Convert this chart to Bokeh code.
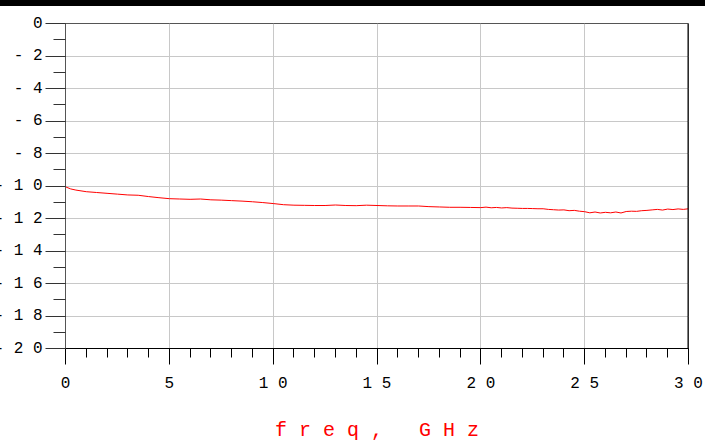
from bokeh.plotting import figure
from bokeh.models import FixedTicker, Div, Range1d, Span
from bokeh.layouts import column
from bokeh.embed import file_html
from bokeh.resources import INLINE

# ---- data ----
freq = [0.0, 0.25, 0.5, 1.0, 1.5, 2.0, 2.5, 3.0, 3.5, 4.0, 4.5, 5.0, 5.5, 6.0, 6.5,
        7.0, 7.5, 8.0, 8.5, 9.0, 9.5, 10.0, 10.5, 11.0, 11.5, 12.0, 12.5, 13.0,
        13.5, 14.0, 14.5, 15.0, 15.5, 16.0, 16.5, 17.0, 17.5, 18.0, 18.5, 19.0,
        19.5, 20.0, 20.25, 20.5, 20.75, 21.0, 21.25, 21.5, 21.75, 22.0, 22.25,
        22.5, 22.75, 23.0, 23.25, 23.5, 23.75, 24.0, 24.25, 24.5, 24.75, 25.0,
        25.25, 25.5, 25.75, 26.0, 26.25, 26.5, 26.75, 27.0, 27.25, 27.5, 27.75,
        28.0, 28.25, 28.5, 28.75, 29.0, 29.25, 29.5, 29.75, 30.0]
s21_db = [-10.05, -10.18, -10.25, -10.35, -10.40, -10.45, -10.50, -10.55, -10.57,
          -10.65, -10.72, -10.78, -10.80, -10.82, -10.80, -10.85, -10.87, -10.90,
          -10.93, -10.97, -11.02, -11.08, -11.15, -11.18, -11.19, -11.20, -11.20,
          -11.17, -11.20, -11.21, -11.18, -11.20, -11.22, -11.23, -11.23, -11.23,
          -11.27, -11.29, -11.31, -11.31, -11.32, -11.33, -11.30, -11.34, -11.32,
          -11.35, -11.33, -11.36, -11.37, -11.38, -11.38, -11.39, -11.40, -11.40,
          -11.44, -11.46, -11.48, -11.47, -11.52, -11.50, -11.55, -11.58, -11.65,
          -11.60, -11.66, -11.62, -11.65, -11.60, -11.66, -11.57, -11.55, -11.56,
          -11.52, -11.50, -11.47, -11.44, -11.48, -11.42, -11.45, -11.41, -11.44,
          -11.40]

x_major = [0, 5, 10, 15, 20, 25, 30]
x_tick_labels = ["0", "5", "1 0", "1 5", "2 0", "2 5", "3 0"]
x_minor = list(range(0, 31))
y_major = [0, -2, -4, -6, -8, -10, -12, -14, -16, -18, -20]
y_tick_labels = ["0", "- 2", "- 4", "- 6", "- 8", "- 1 0", "- 1 2", "- 1 4",
                 "- 1 6", "- 1 8", "- 2 0"]
y_minor = list(range(-20, 1))
x_title = "f r e q ,\u00a0\u00a0\u00a0G H z"

MONO = "Liberation Mono"
LEFT = 80          # frame left inside figure
SHIFT = LEFT - 65  # extra left shift so frame sits at x=65 on page

p = figure(width=705 + SHIFT, height=432,
           x_range=Range1d(0, 30), y_range=Range1d(-20, 0),
           output_backend="svg", toolbar_location=None,
           min_border_left=LEFT, min_border_right=17,
           min_border_top=11, min_border_bottom=93)
p.background_fill_color = "white"
p.border_fill_color = "white"
p.outline_line_color = "#555555"

p.line(freq, s21_db, line_color="#ff0000", line_width=1)

# x axis
xa = p.xaxis[0]
xa.ticker = FixedTicker(ticks=x_major, minor_ticks=x_minor)
xa.major_label_overrides = {t: l for t, l in zip(x_major, x_tick_labels)}
xa.major_tick_out = 16
xa.major_tick_in = 0
xa.minor_tick_out = 9
xa.minor_tick_in = 0
xa.axis_line_color = "black"
xa.major_tick_line_color = "black"
xa.minor_tick_line_color = "black"
xa.major_label_text_font = MONO
xa.major_label_text_font_size = "16px"
xa.major_label_text_color = "black"
xa.major_label_standoff = 10
xa.axis_label = x_title
xa.axis_label_text_font = MONO
xa.axis_label_text_font_size = "20px"
xa.axis_label_text_font_style = "normal"
xa.axis_label_text_color = "#ff0000"
xa.axis_label_standoff = 23

# y axis
ya = p.yaxis[0]
ya.ticker = FixedTicker(ticks=y_major, minor_ticks=y_minor)
ya.major_label_overrides = {t: l for t, l in zip(y_major, y_tick_labels)}
ya.major_tick_out = 20
ya.major_tick_in = 0
ya.minor_tick_out = 12
ya.minor_tick_in = 0
ya.axis_line_color = "#555555"
ya.major_tick_line_color = "#333333"
ya.minor_tick_line_color = "#333333"
ya.major_label_text_font = MONO
ya.major_label_text_font_size = "16px"
ya.major_label_text_color = "black"
ya.major_label_standoff = 3

# grid
p.xgrid.ticker = FixedTicker(ticks=[5, 10, 15, 20, 25])
p.ygrid.ticker = FixedTicker(ticks=[-2, -4, -6, -8, -10, -12, -14, -16, -18])
p.xgrid.grid_line_color = "#c8c8c8"
p.ygrid.grid_line_color = "#c8c8c8"

# black right border
p.add_layout(Span(location=30, dimension="height", line_color="black", line_width=2))

bar = Div(text="", width=705 + SHIFT, height=10,
          styles={"background": "linear-gradient(to bottom, #8db4e6 0px, #8db4e6 1px, #000000 1px, #000000 9px, #ffffff 9px, #ffffff 10px)"})

layout = column(bar, p, spacing=0,
                styles={"margin": f"-8px 0px -8px -{SHIFT}px"})

with open("out.html", "w") as f:
    f.write(file_html(layout, INLINE))
